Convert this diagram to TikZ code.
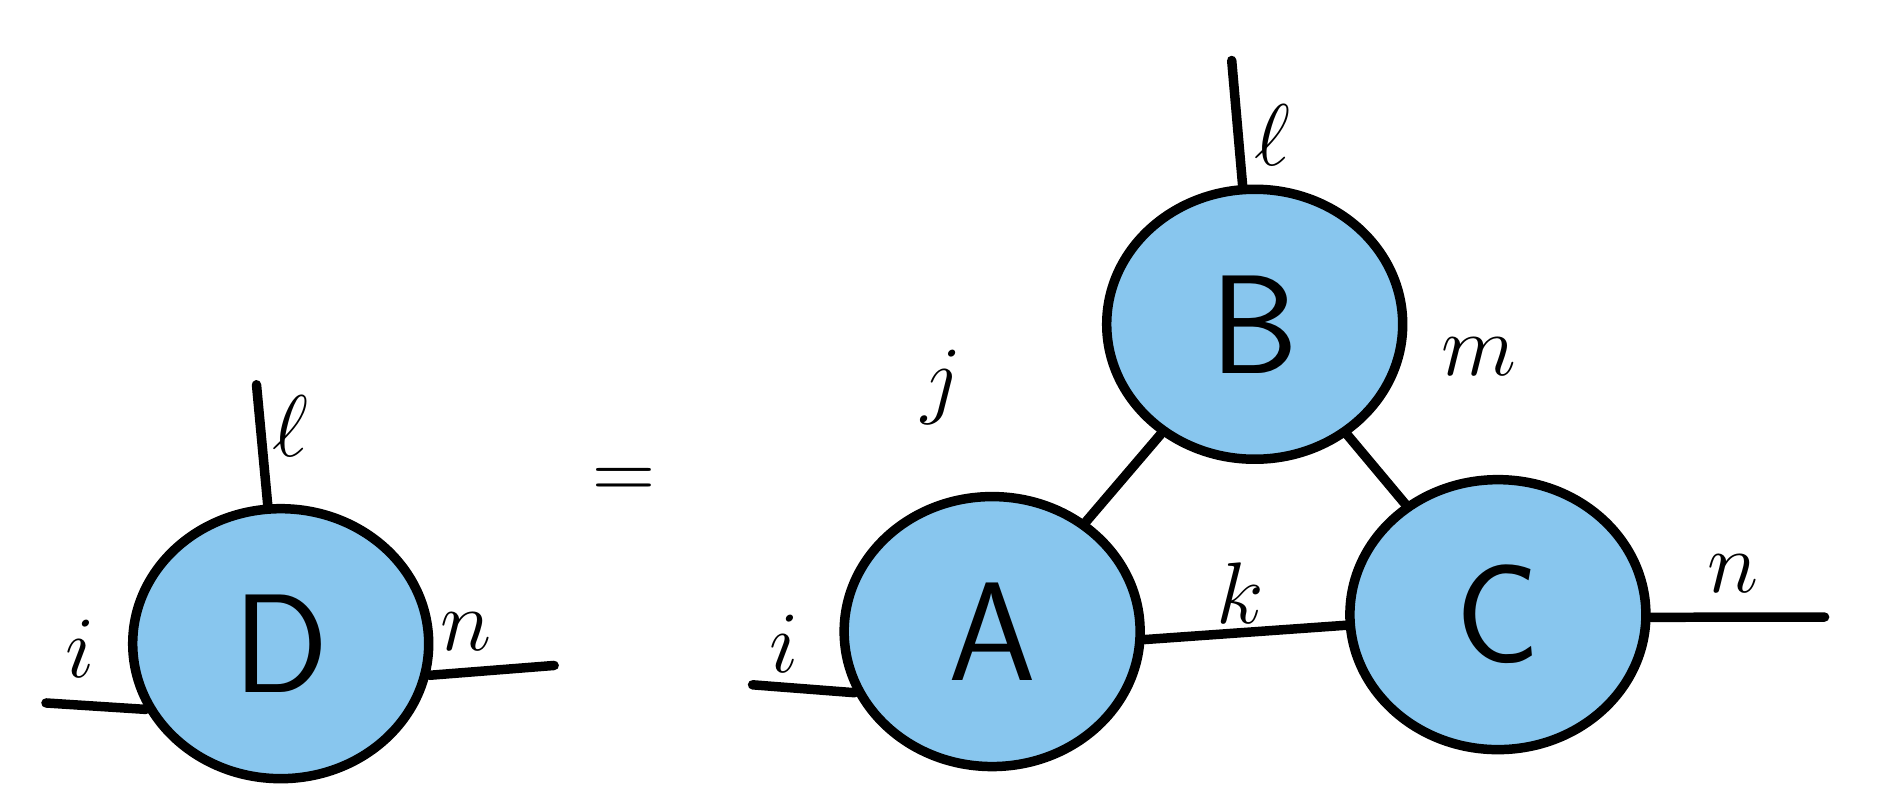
\documentclass[tikz,border=0pt]{standalone}
\usetikzlibrary{shapes.geometric}
\begin{document}
\begin{tikzpicture}[x=0.0121cm,y=-0.0121cm,line width=2.7pt,line cap=round,
 blob/.style={ellipse,draw=black,fill={rgb,255:red,136;green,198;blue,238},minimum width=2.96cm,minimum height=2.7cm,inner sep=0pt,font=\sffamily\fontsize{40}{40}\selectfont},
 lab/.style={font=\sffamily\fontsize{24}{24}\selectfont}]
\useasboundingbox (0,0) rectangle (1572,668);
\node[blob] (D) at (232,532) {D};
\node[blob] (A) at (820,522) {A};
\node[blob] (B) at (1037,268) {B};
\node[blob] (C) at (1238,508) {C};
\coordinate (Du) at (212,318);
\coordinate (Dl) at (38,581);
\coordinate (Dr) at (458,550);
\coordinate (Al) at (622,566);
\coordinate (Bu) at (1018,50);
\coordinate (Cr) at (1508,510);
\draw (D) -- (Du); \draw (D.206) -- (Dl); \draw (D.-12) -- (Dr);
\draw (A.204) -- (Al); \draw (B) -- (Bu); \draw (C.-1) -- (Cr);
\draw (A) -- (B); \draw (B) -- (C); \draw (A.-3) -- (C.184);
\node[lab] (l1) at (240,352) {$\ell$};
\node[lab] (i1) at (66,536) {$i$};
\node[lab] (n1) at (385,522) {$n$};
\node[font=\fontsize{40}{40}\selectfont] (eq) at (516,400) {$=$};
\node[lab] (i2) at (648,532) {$i$};
\node[lab] (j) at (778,320) {$j$};
\node[lab] (l2) at (1052,112) {$\ell$};
\node[lab] (m) at (1222,295) {$m$};
\node[lab] (k) at (1025,490) {$k$};
\node[lab] (n2) at (1432,474) {$n$};
\end{tikzpicture}
\end{document}
